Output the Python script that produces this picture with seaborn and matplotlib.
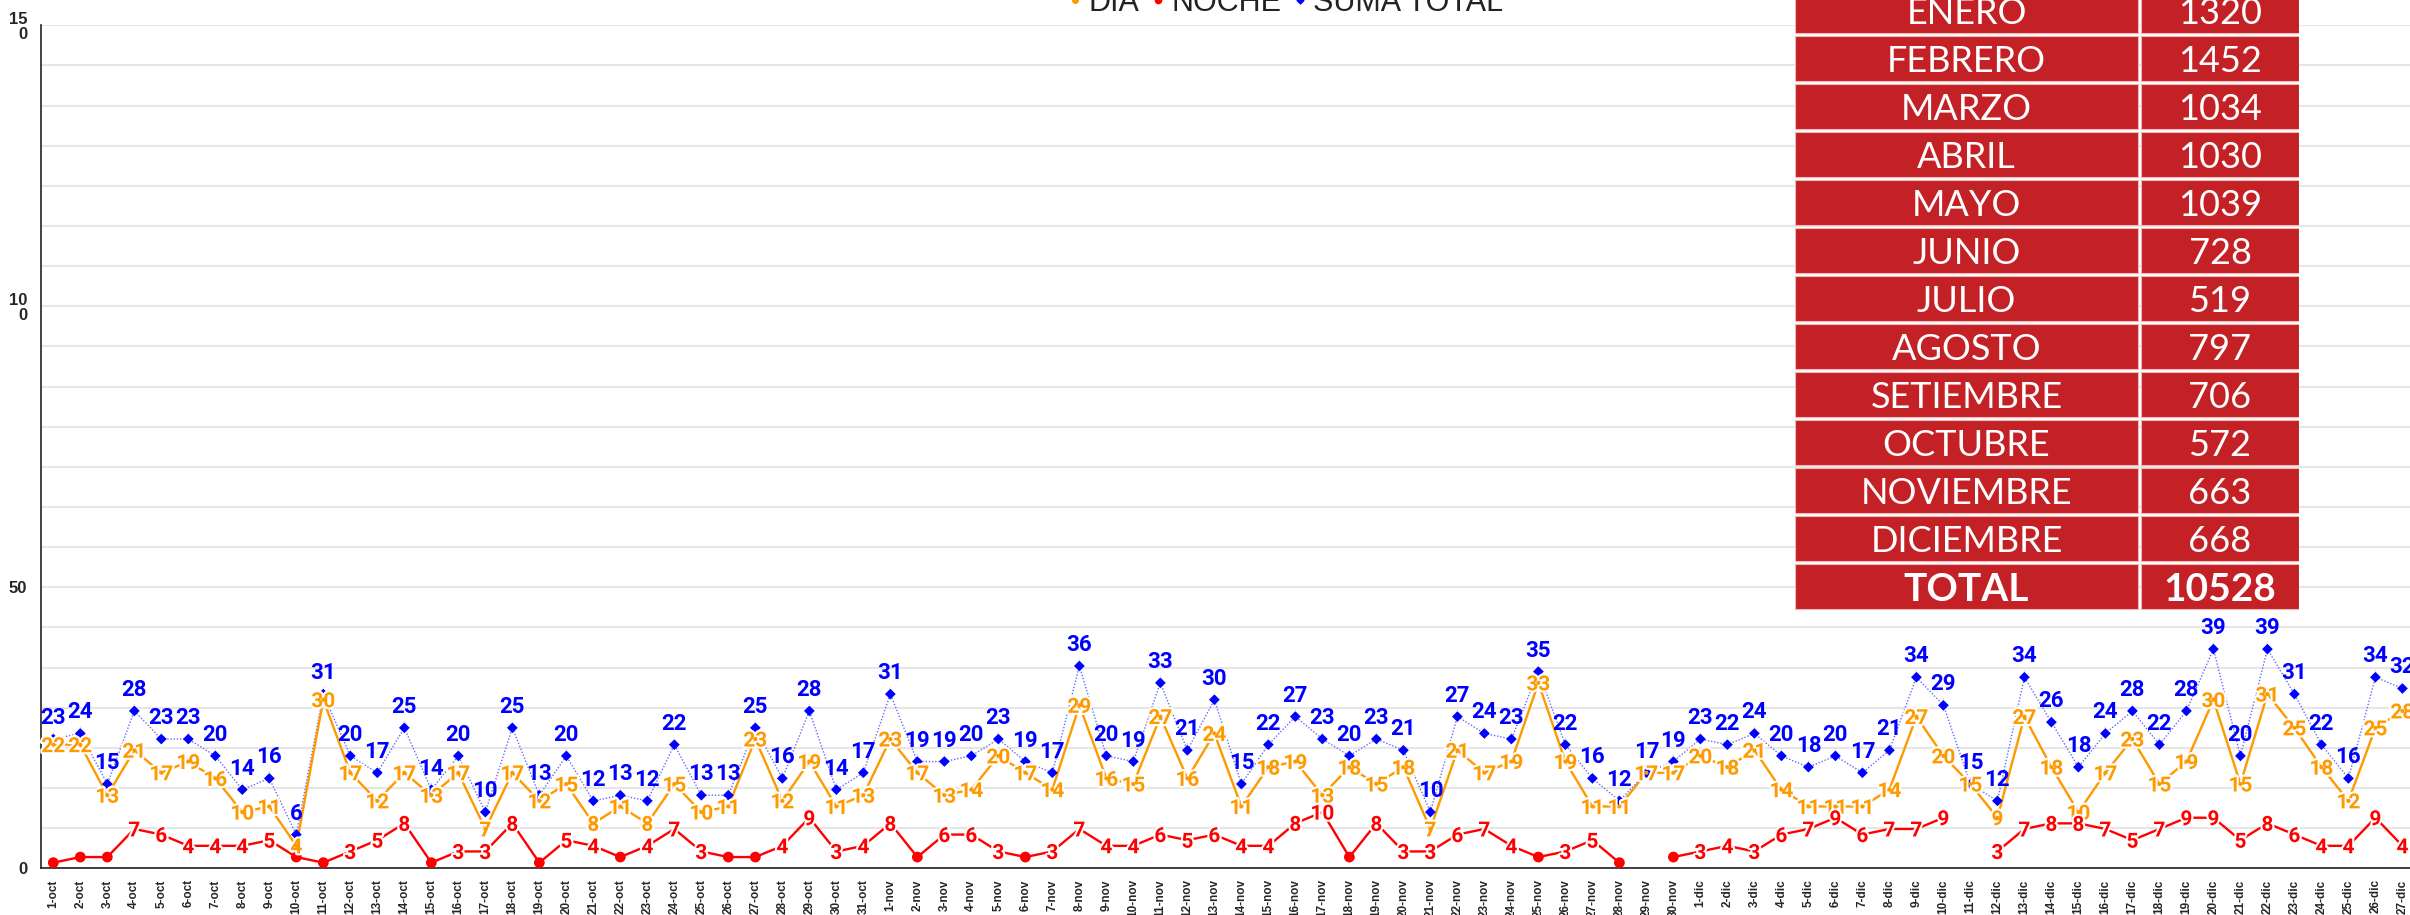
import numpy as np
import pandas as pd
import matplotlib
matplotlib.use("Agg")
import matplotlib.pyplot as plt
import matplotlib.patheffects as pe
from matplotlib.lines import Line2D
import seaborn as sns

NAN = np.nan

# Fechas del periodo (octubre a diciembre)
fechas = ([f"{d}-oct" for d in range(1, 32)]
          + [f"{d}-nov" for d in range(1, 31)]
          + [f"{d}-dic" for d in range(1, 28)])

dia = [22, 22, 13, 21, 17, 19, 16, 10, 11, 4, 30, 17, 12, 17, 13, 17, 7, 17, 12, 15,
       8, 11, 8, 15, 10, 11, 23, 12, 19, 11, 13,
       23, 17, 13, 14, 20, 17, 14, 29, 16, 15, 27, 16, 24, 11, 18, 19, 13, 18, 15, 18,
       7, 21, 17, 19, 33, 19, 11, 11, 17, 17,
       20, 18, 21, 14, 11, 11, 11, 14, 27, 20, 15, 9, 27, 18, 10, 17, 23, 15, 19, 30,
       15, 31, 25, 18, 12, 25, 28]

noche = [1, 2, 2, 7, 6, 4, 4, 4, 5, 2, 1, 3, 5, 8, 1, 3, 3, 8, 1, 5,
         4, 2, 4, 7, 3, 2, 2, 4, 9, 3, 4,
         8, 2, 6, 6, 3, 2, 3, 7, 4, 4, 6, 5, 6, 4, 4, 8, 10, 2, 8, 3,
         3, 6, 7, 4, 2, 3, 5, 1, NAN, 2,
         3, 4, 3, 6, 7, 9, 6, 7, 7, 9, NAN, 3, 7, 8, 8, 7, 5, 7, 9, 9,
         5, 8, 6, 4, 4, 9, 4]

suma = [23, 24, 15, 28, 23, 23, 20, 14, 16, 6, 31, 20, 17, 25, 14, 20, 10, 25, 13, 20,
        12, 13, 12, 22, 13, 13, 25, 16, 28, 14, 17,
        31, 19, 19, 20, 23, 19, 17, 36, 20, 19, 33, 21, 30, 15, 22, 27, 23, 20, 23, 21,
        10, 27, 24, 23, 35, 22, 16, 12, 17, 19,
        23, 22, 24, 20, 18, 20, 17, 21, 34, 29, 15, 12, 34, 26, 18, 24, 28, 22, 28, 39,
        20, 39, 31, 22, 16, 34, 32]

# Tabla de totales mensuales
meses = ["ENERO", "FEBRERO", "MARZO", "ABRIL", "MAYO", "JUNIO", "JULIO", "AGOSTO",
         "SETIEMBRE", "OCTUBRE", "NOVIEMBRE", "DICIEMBRE"]
totales_mes = [1320, 1452, 1034, 1030, 1039, 728, 519, 797, 706, 572, 663, 668]
total_anual = 10528

df = pd.DataFrame({"x": range(len(fechas)), "dia": dia, "noche": noche, "suma": suma})
df["tramo"] = df["noche"].isna().cumsum()

C_DIA = "#ff9900"
C_NOCHE = "#ff0000"
C_SUMA = "#0000ff"

sns.set_style("white")
plt.rcParams["font.family"] = ["Liberation Sans", "DejaVu Sans"]

W, H = 2410, 915
fig = plt.figure(figsize=(W / 100, H / 100), dpi=100)
ax = fig.add_axes([40.7 / W, 1 - 868.3 / H, 1 - 40.7 / W, (868.3 - 25.3) / H])

# lineas
sns.lineplot(data=df, x="x", y="suma", ax=ax, color="#6868ff", lw=1.0,
             linestyle=(0, (1, 1.3)), zorder=3)
sns.scatterplot(data=df, x="x", y="suma", ax=ax, color=C_SUMA, marker="D", s=30,
                edgecolor="none", zorder=4)
sns.lineplot(data=df, x="x", y="dia", ax=ax, color=C_DIA, lw=1.7, zorder=3)
sns.scatterplot(data=df, x="x", y="dia", ax=ax, color=C_DIA, s=9,
                edgecolor="none", zorder=7)
sns.lineplot(data=df.dropna(subset=["noche"]), x="x", y="noche", units="tramo",
             estimator=None, ax=ax, color=C_NOCHE, lw=1.7, zorder=3)
sns.scatterplot(data=df[df["noche"] < 3], x="x", y="noche", ax=ax, color=C_NOCHE,
                s=60, edgecolor="none", zorder=4)

halo = [pe.withStroke(linewidth=3, foreground="white")]
for _, r in df.iterrows():
    ax.annotate(str(int(r["suma"])), xy=(r["x"], r["suma"]), xytext=(0, 10.8),
                textcoords="offset points", ha="center", va="baseline",
                color=C_SUMA, fontsize=16, fontweight="bold", family="Roboto",
                arrowprops=dict(arrowstyle="-", color="#dcdcdc", lw=0.8,
                                shrinkA=0, shrinkB=4), zorder=6)
    ax.text(r["x"], r["dia"], str(int(r["dia"])), ha="center", va="center_baseline",
            color=C_DIA, fontsize=15, fontweight="bold", family="Roboto",
            path_effects=halo, zorder=5)
    if not np.isnan(r["noche"]) and r["noche"] >= 3:
        ax.text(r["x"], r["noche"], str(int(r["noche"])), ha="center",
                va="center_baseline", color=C_NOCHE, fontsize=15, fontweight="bold",
                family="Roboto", path_effects=halo, zorder=5)

# ejes
ax.set_xlim(-0.467, 87.28)
ax.set_ylim(0, 150)
ax.set_xticks(range(len(fechas)))
ax.set_xticklabels(fechas, rotation=90, fontsize=8.5, fontweight="bold")
ax.set_yticks([0, 50, 100, 150])
ax.set_yticklabels(["0", "50", "10\n0", "15\n0"], fontsize=12, fontweight="bold",
                   linespacing=1.05)
ax.set_yticks(np.linspace(0, 150, 22), minor=True)
ax.grid(axis="y", which="both", color="#e6e6e6", lw=1.5)
ax.grid(axis="x", visible=False)
ax.tick_params(axis="both", which="both", direction="inout", length=7.2, width=1,
               color="#222222")
ax.tick_params(axis="y", pad=6.0)
ax.tick_params(axis="x", pad=4.3)
ax.set_xlabel("")
ax.set_ylabel("")
for s in ["top", "right"]:
    ax.spines[s].set_visible(False)
for s in ["left", "bottom"]:
    ax.spines[s].set_color("#222222")
    ax.spines[s].set_linewidth(1.2)

# leyenda
handles = [Line2D([], [], ls="", marker="o", color=C_DIA, markersize=4),
           Line2D([], [], ls="", marker="o", color=C_NOCHE, markersize=4.5),
           Line2D([], [], ls="", marker="D", color=C_SUMA, markersize=3.5)]
fig.legend(handles, ["DIA", "NOCHE", "SUMA TOTAL"], loc="center",
           bbox_to_anchor=(1286 / W, 1 - 3 / H), ncol=3, frameon=False, fontsize=22,
           handlelength=0.4, handletextpad=0.25, columnspacing=0.4,
           labelcolor="#222222")

# tabla
tab = fig.add_axes([1795 / W, 1 - 610.7 / H, (2299 - 1795) / W, 13 * 48 / H])
tab.set_xlim(0, 504)
tab.set_ylim(13, 0)
tab.axis("off")
filas = meses + ["TOTAL"]
valores = totales_mes + [total_anual]
yy = np.arange(len(filas)) + 0.5
tab.barh(yy, 343, left=0, height=0.94, color="#c42126", edgecolor="#f0b5b5", lw=0.8)
tab.barh(yy, 158, left=346, height=0.94, color="#c42126", edgecolor="#f0b5b5", lw=0.8)
for y, nombre, v in zip(yy, filas, valores):
    negrita = nombre == "TOTAL"
    peso = "bold" if negrita else "normal"
    tab.text(171.5, y, nombre, ha="center", va="center_baseline", color="white",
             fontsize=28 if negrita else 26, family="Lato", fontweight=peso)
    tab.text(425, y, str(v), ha="center", va="center_baseline", color="white",
             fontsize=28 if negrita else 26, family="Lato", fontweight=peso)

fig.savefig("out.png", dpi=100)
